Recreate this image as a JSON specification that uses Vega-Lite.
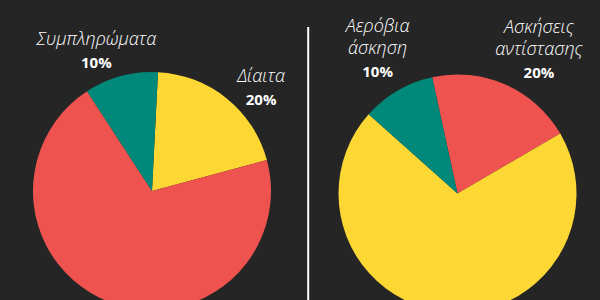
{
  "$schema": "https://vega.github.io/schema/vega-lite/v6.json",
  "background": "#252525",
  "padding": 0,
  "spacing": 3,
  "config": {"view": {"stroke": null}},
  "data": {
    "values": [
      {"chart": "A", "k": 1, "slice": "Δίαιτα", "label": "Δίαιτα", "pct": "20%", "value": 20},
      {"chart": "A", "k": 2, "slice": "Υπόλοιπο", "label": "", "pct": "", "value": 70},
      {"chart": "A", "k": 3, "slice": "Συμπληρώματα", "label": "Συμπληρώματα", "pct": "10%", "value": 10},
      {"chart": "B", "k": 1, "slice": "Ασκήσεις αντίστασης", "label": "Ασκήσεις\nαντίστασης", "pct": "20%", "value": 20},
      {"chart": "B", "k": 2, "slice": "Υπόλοιπο", "label": "", "pct": "", "value": 70},
      {"chart": "B", "k": 3, "slice": "Αερόβια άσκηση", "label": "Αερόβια\nάσκηση", "pct": "10%", "value": 10}
    ]
  },
  "resolve": {"scale": {"color": "independent", "theta": "independent"}},
  "hconcat": [
    {
      "width": 304,
      "height": 382,
      "transform": [{"filter": "datum.chart == 'A'"}],
      "layer": [
        {
          "mark": {"type": "arc", "outerRadius": 119},
          "encoding": {
            "theta": {"field": "value", "type": "quantitative", "stack": true, "scale": {"range": [0.0506, 6.3338]}},
            "order": {"field": "k", "type": "quantitative"},
            "color": {"field": "slice", "type": "nominal", "legend": null,
              "scale": {"domain": ["Δίαιτα", "Υπόλοιπο", "Συμπληρώματα"], "range": ["#FDD835", "#EF5350", "#00897B"]}}
          }
        },
        {
          "mark": {"type": "text", "radius": 148.6, "baseline": "bottom", "dy": -4, "lineBreak": "\n", "lineHeight": 22, "font": "Open Sans", "fontSize": 18, "fontStyle": "italic", "fontWeight": 300, "color": "#ffffff"},
          "encoding": {
            "theta": {"field": "value", "type": "quantitative", "stack": true, "scale": {"range": [0.2269, 6.1977]}},
            "order": {"field": "k", "type": "quantitative"},
            "text": {"field": "label", "type": "nominal"}
          }
        },
        {
          "mark": {"type": "text", "radius": 148.6, "baseline": "top", "dy": 3, "font": "Open Sans", "fontSize": 15, "fontWeight": "bold", "color": "#ffffff"},
          "encoding": {
            "theta": {"field": "value", "type": "quantitative", "stack": true, "scale": {"range": [0.2269, 6.1977]}},
            "order": {"field": "k", "type": "quantitative"},
            "text": {"field": "pct", "type": "nominal"}
          }
        }
      ],
      "resolve": {"scale": {"theta": "independent"}}
    },
    {
      "width": 301,
      "height": 387,
      "transform": [{"filter": "datum.chart == 'B'"}],
      "layer": [
        {
          "mark": {"type": "arc", "outerRadius": 119},
          "encoding": {
            "theta": {"field": "value", "type": "quantitative", "stack": true, "scale": {"range": [-0.2147, 6.0685]}},
            "order": {"field": "k", "type": "quantitative"},
            "color": {"field": "slice", "type": "nominal", "legend": null,
              "scale": {"domain": ["Ασκήσεις αντίστασης", "Υπόλοιπο", "Αερόβια άσκηση"], "range": ["#EF5350", "#FDD835", "#00897B"]}}
          }
        },
        {
          "mark": {"type": "text", "radius": 154, "baseline": "bottom", "dy": -26, "lineBreak": "\n", "lineHeight": 22, "font": "Open Sans", "fontSize": 18, "fontStyle": "italic", "fontWeight": 300, "color": "#ffffff"},
          "encoding": {
            "theta": {"field": "value", "type": "quantitative", "stack": true, "scale": {"range": [-0.0524, 6.0423]}},
            "order": {"field": "k", "type": "quantitative"},
            "text": {"field": "label", "type": "nominal"}
          }
        },
        {
          "mark": {"type": "text", "radius": 154, "baseline": "top", "dy": 3, "font": "Open Sans", "fontSize": 15, "fontWeight": "bold", "color": "#ffffff"},
          "encoding": {
            "theta": {"field": "value", "type": "quantitative", "stack": true, "scale": {"range": [-0.0524, 6.0423]}},
            "order": {"field": "k", "type": "quantitative"},
            "text": {"field": "pct", "type": "nominal"}
          }
        },
        {
          "data": {"values": [{"line": "divider"}]},
          "mark": {"type": "rule", "color": "#ffffff", "strokeWidth": 2},
          "encoding": {
            "x": {"datum": 0.4, "type": "quantitative", "scale": {"domain": [0, 100]}, "axis": null},
            "y": {"datum": 0, "type": "quantitative", "scale": {"domain": [0, 100], "nice": false}, "axis": null},
            "y2": {"datum": 93}
          }
        }
      ],
      "resolve": {"scale": {"theta": "independent"}}
    }
  ]
}
